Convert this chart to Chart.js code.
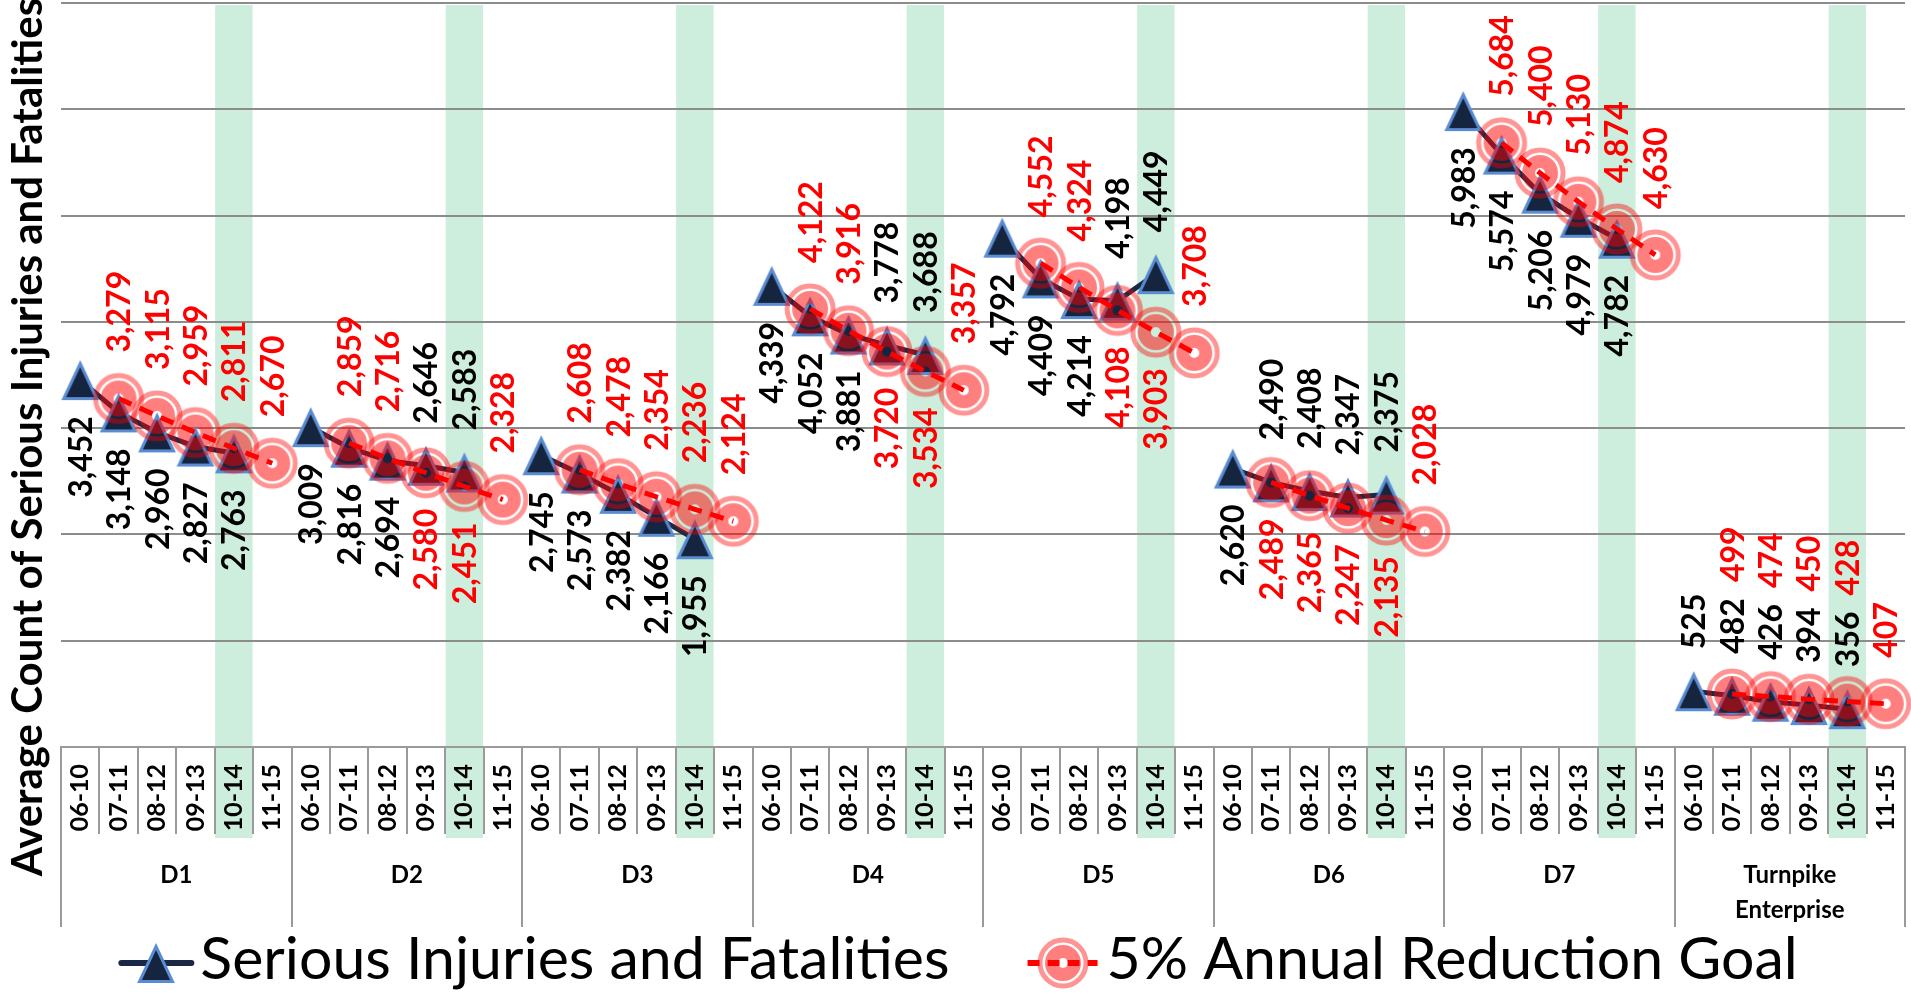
<!DOCTYPE html>
<html>
<head>
<meta charset="utf-8">
<script src="https://cdn.jsdelivr.net/npm/chart.js@4.4.1/dist/chart.umd.min.js"></script>
<style>
html,body{margin:0;padding:0;background:#fff;overflow:hidden}
canvas{display:block}
</style>
</head>
<body>
<canvas id="chart" width="1911" height="994"></canvas>
<script>
// ---------------- data ----------------
const districts = ['D1', 'D2', 'D3', 'D4', 'D5', 'D6', 'D7', 'Turnpike Enterprise'];
const periods = ['06-10', '07-11', '08-12', '09-13', '10-14', '11-15'];
const highlightPeriod = '10-14';
const seriesNames = ['Serious Injuries and Fatalities', '5% Annual Reduction Goal'];
const yAxisTitle = 'Average Count of Serious Injuries and Fatalities';
const yMin = 0, yMax = 7000, yStep = 1000;

const seriousInjuriesFatalities = [
  3452, 3148, 2960, 2827, 2763, null,   // D1
  3009, 2816, 2694, 2646, 2583, null,   // D2
  2745, 2573, 2382, 2166, 1955, null,   // D3
  4339, 4052, 3881, 3778, 3688, null,   // D4
  4792, 4409, 4214, 4198, 4449, null,   // D5
  2620, 2490, 2408, 2347, 2375, null,   // D6
  5983, 5574, 5206, 4979, 4782, null,   // D7
  525, 482, 426, 394, 356, null         // Turnpike Enterprise
];
const reductionGoal = [
  null, 3279, 3115, 2959, 2811, 2670,   // D1
  null, 2859, 2716, 2580, 2451, 2328,   // D2
  null, 2608, 2478, 2354, 2236, 2124,   // D3
  null, 4122, 3916, 3720, 3534, 3357,   // D4
  null, 4552, 4324, 4108, 3903, 3708,   // D5
  null, 2489, 2365, 2247, 2135, 2028,   // D6
  null, 5684, 5400, 5130, 4874, 4630,   // D7
  null, 499, 474, 450, 428, 407         // Turnpike Enterprise
];

// category labels (one per point)
const categories = districts.flatMap(() => periods);
const districtLabels = districts.map(d => d.includes(' ') ? d.split(' ') : d);

// ---------------- styles ----------------
const NAVY = '#15243F', BLUE = '#5A8CD2', RED = '#FF0000';
const GRID = '#8C8C8C', AXIS = '#9A9A9A';

function makeTriangle() {
  const w = 38, h = 40, pad = 4, lw = 3;
  const c = document.createElement('canvas');
  c.width = w + pad * 2; c.height = h + pad * 2;
  const g = c.getContext('2d');
  g.beginPath();
  g.moveTo(c.width / 2, pad + 3.5);
  g.lineTo(pad + w - 2.5, pad + h - lw / 2);
  g.lineTo(pad + 2.5, pad + h - lw / 2);
  g.closePath();
  g.fillStyle = NAVY; g.fill();
  g.lineJoin = 'miter'; g.lineWidth = lw; g.strokeStyle = BLUE; g.stroke();
  return c;
}
function makeTarget() {
  const s = 58, c = document.createElement('canvas');
  c.width = s; c.height = s;
  const g = c.getContext('2d');
  g.beginPath(); g.arc(s / 2, s / 2, 11.5, 0, Math.PI * 2);
  g.lineWidth = 13; g.strokeStyle = 'rgba(255,0,0,0.5)'; g.stroke();
  g.beginPath(); g.arc(s / 2, s / 2, 23, 0, Math.PI * 2);
  g.lineWidth = 5; g.strokeStyle = 'rgba(255,0,0,0.42)'; g.stroke();
  return c;
}
const triangleImg = makeTriangle();
const targetImg = makeTarget();

function fmt(v) { return String(v).replace(/\B(?=(\d{3})+(?!\d))/g, ','); }

// ---------------- plugins ----------------
const bandPlugin = {
  id: 'bands',
  beforeDraw(chart) {
    const ctx = chart.ctx, xs = chart.scales.x, area = chart.chartArea;
    ctx.save();
    ctx.fillStyle = '#ffffff';
    ctx.fillRect(0, 0, chart.width, chart.height);
    const step = xs.getPixelForValue(1) - xs.getPixelForValue(0);
    ctx.fillStyle = '#CDEEDC';
    categories.forEach((c, i) => {
      if (c !== highlightPeriod) return;
      const cx = xs.getPixelForValue(i);
      ctx.fillRect(cx - step / 2 + 0.5, area.top + 2, step - 1, xs.bottom + 4 - (area.top + 2));
    });
    ctx.restore();
  }
};

const labelPlugin = {
  id: 'valueLabels',
  afterDatasetsDraw(chart) {
    const ctx = chart.ctx;
    const goalMeta = chart.getDatasetMeta(1);
    const sifMeta = chart.getDatasetMeta(2);
    ctx.save();
    ctx.font = 'bold 32px Lato';
    const draw = (text, x, y, above, color) => {
      ctx.save();
      ctx.translate(x, y);
      ctx.rotate(-Math.PI / 2);
      ctx.fillStyle = color;
      ctx.textAlign = above ? 'left' : 'right';
      ctx.textBaseline = 'alphabetic';
      ctx.fillText(text, 0, 11.5);
      ctx.restore();
    };
    for (let i = 0; i < categories.length; i++) {
      const b = seriousInjuriesFatalities[i], r = reductionGoal[i];
      const nearAxis = Math.max(b ?? 0, r ?? 0) < 1000;
      let bAbove = (b != null && r != null) ? b > r : false;
      if (nearAxis) bAbove = true;
      let blackTop = null;
      if (b != null) {
        const p = sifMeta.data[i], t = fmt(b);
        if (bAbove) {
          const a = p.y - 42;
          draw(t, p.x, a, true, '#000');
          blackTop = a - ctx.measureText(t).width;
        } else {
          draw(t, p.x, p.y + 36, false, '#000');
        }
      }
      if (r != null) {
        const p = goalMeta.data[i], t = fmt(r);
        const rAbove = nearAxis || b == null || !bAbove;
        if (rAbove) {
          const a = (nearAxis && blackTop != null) ? blackTop - 16 : p.y - 46;
          draw(t, p.x, a, true, RED);
        } else {
          draw(t, p.x, p.y + 36, false, RED);
        }
      }
    }
    ctx.restore();
  }
};

const decorPlugin = {
  id: 'decor',
  afterDraw(chart) {
    const ctx = chart.ctx;
    // y-axis title
    ctx.save();
    ctx.translate(42, 437);
    ctx.rotate(-Math.PI / 2);
    ctx.font = 'bold 42px Lato';
    ctx.fillStyle = '#000';
    ctx.textAlign = 'center';
    ctx.textBaseline = 'alphabetic';
    ctx.fillText(yAxisTitle, 0, 0);
    ctx.restore();

    // legend
    ctx.save();
    ctx.font = '59px Lato';
    const cy = chart.height - 31;
    const base = chart.height - 15;
    const half = 35, toText = 44, toNext = 113;
    const w1 = ctx.measureText(seriesNames[0]).width;
    const w2 = ctx.measureText(seriesNames[1]).width;
    const extent = half + toText + w1 + toNext + toText + w2;
    const c1 = chart.width / 2 + 4 - extent / 2 + half;
    const t1 = c1 + toText;
    const c2 = t1 + w1 + toNext;
    const t2 = c2 + toText;
    // item 1
    ctx.beginPath(); ctx.moveTo(c1 - half, cy); ctx.lineTo(c1 + half, cy);
    ctx.lineWidth = 6; ctx.strokeStyle = '#1B2845'; ctx.lineCap = 'round'; ctx.stroke();
    ctx.drawImage(triangleImg, Math.round(c1 - triangleImg.width / 2), Math.round(cy - triangleImg.height / 2));
    ctx.fillStyle = '#000'; ctx.textAlign = 'left'; ctx.textBaseline = 'alphabetic';
    ctx.fillText(seriesNames[0], t1, base);
    // item 2
    ctx.drawImage(targetImg, Math.round(c2 - targetImg.width / 2), Math.round(cy - targetImg.height / 2));
    ctx.beginPath(); ctx.moveTo(c2 - half, cy); ctx.lineTo(c2 + half, cy);
    ctx.lineWidth = 6; ctx.strokeStyle = RED; ctx.lineCap = 'butt'; ctx.setLineDash([12, 8]); ctx.stroke();
    ctx.setLineDash([]);
    ctx.fillStyle = '#000';
    ctx.fillText(seriesNames[1], t2, base);
    ctx.restore();
  }
};

// ---------------- chart ----------------
new Chart(document.getElementById('chart'), {
  type: 'line',
  data: {
    labels: categories,
    datasets: [
      {
        label: seriesNames[1] + ' line',
        data: reductionGoal,
        borderColor: RED,
        borderWidth: 5,
        borderDash: [14, 9],
        pointRadius: 0,
        fill: false,
        tension: 0,
        spanGaps: false,
        order: 0
      },
      {
        label: seriesNames[1],
        data: reductionGoal,
        showLine: false,
        pointStyle: targetImg,
        pointRadius: 20,
        order: 1
      },
      {
        label: seriesNames[0],
        data: seriousInjuriesFatalities,
        borderColor: '#1B2845',
        borderWidth: 5,
        pointStyle: triangleImg,
        pointRadius: 20,
        fill: false,
        tension: 0,
        spanGaps: false,
        order: 2
      }
    ]
  },
  options: {
    responsive: false,
    animation: false,
    events: [],
    layout: { autoPadding: false, padding: { top: 3, left: 0, right: 6, bottom: 67 } },
    plugins: { legend: { display: false }, tooltip: { enabled: false }, title: { display: false } },
    scales: {
      x: {
        type: 'category',
        position: 'bottom',
        offset: true,
        weight: 0,
        grid: { offset: true, drawOnChartArea: false, drawTicks: true, tickLength: 87, color: AXIS, lineWidth: 2 },
        border: { display: true, color: AXIS, width: 2 },
        ticks: {
          autoSkip: false, maxRotation: 90, minRotation: 90, padding: -70,
          color: '#000', font: { family: 'Lato', size: 25, weight: 'bold' }
        },
        afterFit(scale) { scale.height = 87; }
      },
      x2: {
        type: 'category',
        position: 'bottom',
        labels: districtLabels,
        offset: true,
        weight: 1,
        grid: { offset: true, drawOnChartArea: false, drawTicks: true, tickLength: 93, color: AXIS, lineWidth: 2 },
        border: { display: false },
        ticks: {
          autoSkip: false, maxRotation: 0, minRotation: 0, padding: -69,
          color: '#000', font: { family: 'Lato', size: 24, weight: 'bold', lineHeight: 1.45 }
        },
        afterFit(scale) { scale.height = 93; }
      },
      y: {
        type: 'linear',
        min: yMin, max: yMax,
        ticks: { display: false, stepSize: yStep },
        grid: { color: GRID, lineWidth: 2, drawTicks: false },
        border: { display: false },
        afterFit(scale) { scale.width = 61; }
      }
    }
  },
  plugins: [bandPlugin, labelPlugin, decorPlugin]
});
</script>
</body>
</html>
